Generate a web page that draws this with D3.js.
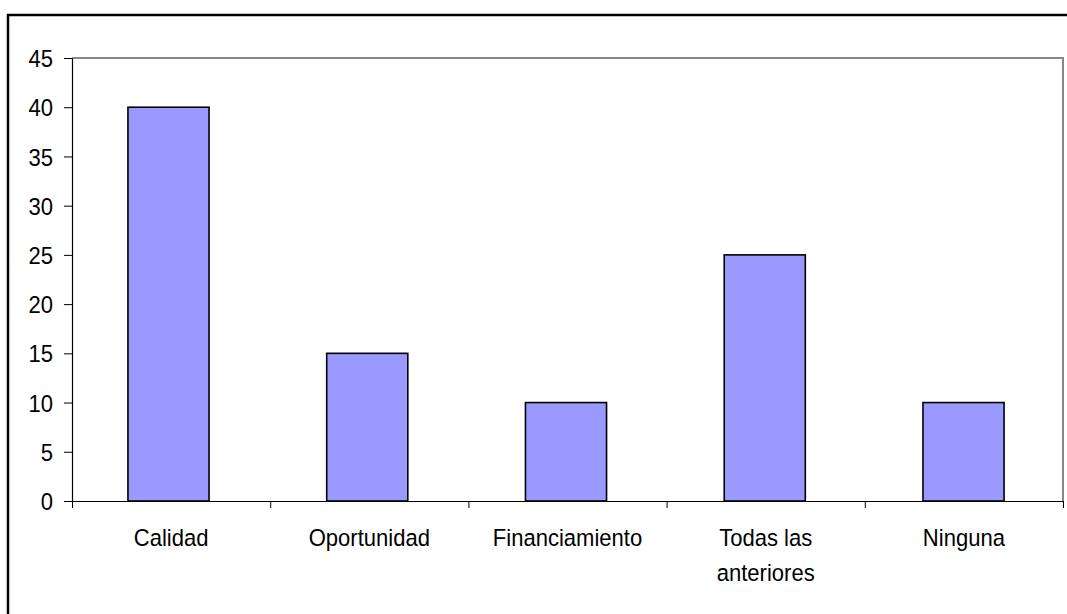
<!DOCTYPE html>
<html><head><meta charset="utf-8">
<script src="https://cdn.jsdelivr.net/npm/d3@7"></script>
<style>body{margin:0;background:#fff}svg{display:block}text{font-family:"Liberation Sans",Arial,sans-serif;fill:#000}</style>
</head><body>
<script>
const categories = ["Calidad","Oportunidad","Financiamiento","Todas las|anteriores","Ninguna"];
const values = [40,15,10,25,10];
const yTicks = [0,5,10,15,20,25,30,35,40,45];

(function(){
const W=1067,H=614,FS=24.5,SX=0.9;
const svg=d3.select("body").append("svg").attr("width",W).attr("height",H);
svg.append("rect").attr("x",8).attr("y",15).attr("width",1100).attr("height",700)
  .attr("fill","none").attr("stroke","#000").attr("stroke-width",2.5);

const pL=72,pR=1063,pT=58,pB=501;
const x=d3.scaleBand().domain(categories).range([pL,pR]).paddingInner(0.592).paddingOuter(0.289).align(0.487);
const y=d3.scaleLinear().domain([0,45]).range([pB,pT]);

svg.append("path").attr("d",`M${pL},${pT}H${pR}V${pB}`).attr("fill","none").attr("stroke","#888").attr("stroke-width",2);

svg.selectAll("rect.bar").data(values).enter().append("rect").attr("class","bar")
  .attr("x",(d,i)=>x(categories[i])).attr("width",x.bandwidth())
  .attr("y",d=>y(d)).attr("height",d=>pB-y(d))
  .attr("fill","#9999FF").attr("stroke","#000").attr("stroke-width",1.6);

const ya=svg.append("g").attr("transform",`translate(${pL},0)`)
  .call(d3.axisLeft(y).tickValues(yTicks).tickSize(8).tickPadding(11).tickSizeOuter(0));
ya.attr("font-family",null).attr("font-size",null);
ya.select(".domain").attr("stroke","#000").attr("stroke-width",1.2);
ya.selectAll(".tick line").attr("stroke","#000");
ya.selectAll("text").attr("x",0).attr("dy","0.35em").style("font-size",FS+"px")
  .attr("transform",`translate(-19,0) scale(${SX},1)`);

const xb=d3.scaleLinear().domain([0,5]).range([pL,pR]);
const xa=svg.append("g").attr("transform",`translate(0,${pB})`)
  .call(d3.axisBottom(xb).tickValues([0,1,2,3,4,5]).tickSize(7).tickFormat("").tickSizeOuter(0));
xa.select(".domain").attr("stroke","#000").attr("stroke-width",1.2);
xa.selectAll(".tick line").attr("stroke","#000");

categories.forEach((c,i)=>{
  const cx=(xb(i)+xb(i+1))/2;
  const lines=c.split("|");
  const t=svg.append("text").attr("text-anchor","middle").style("font-size",FS+"px")
    .attr("transform",`translate(${cx},546) scale(${SX},1)`);
  lines.forEach((l,j)=>t.append("tspan").attr("x",0).attr("dy",j?35:0).text(l));
});
})();
</script>
</body></html>
